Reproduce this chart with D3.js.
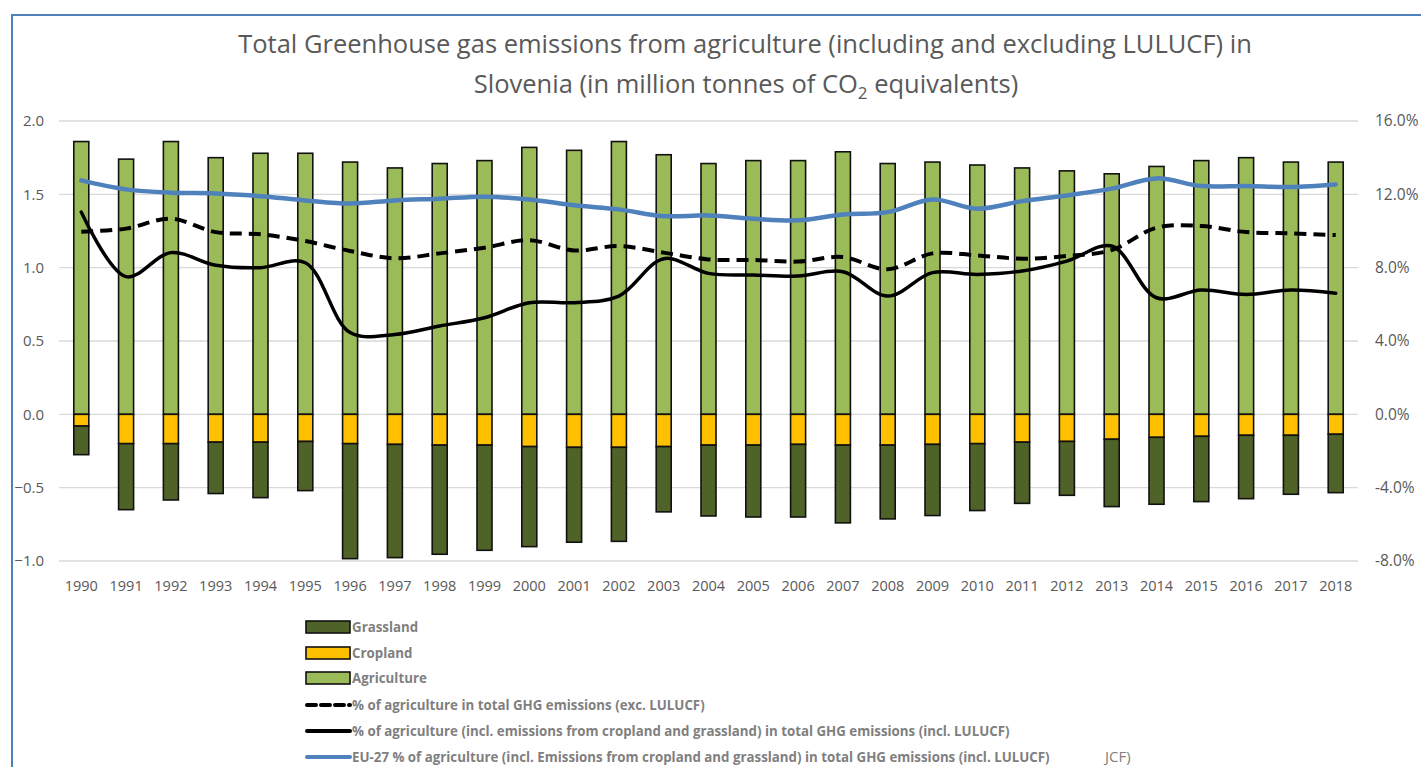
<!DOCTYPE html>
<html>
<head>
<meta charset="utf-8">
<script src="https://cdn.jsdelivr.net/npm/d3@7"></script>
<style>
  body { margin: 0; background: #fff; }
  text { font-family: "Open Sans", "Noto Sans", sans-serif; }
</style>
</head>
<body>
<svg id="main_svg" width="1421" height="767"></svg>
<script>
// data
const years = d3.range(1990, 2019).map(String);

const agriculture = [1.86, 1.74, 1.86, 1.75, 1.78, 1.78, 1.72, 1.68, 1.71, 1.73,
                     1.82, 1.80, 1.86, 1.77, 1.71, 1.73, 1.73, 1.79, 1.71, 1.72,
                     1.70, 1.68, 1.66, 1.64, 1.69, 1.73, 1.75, 1.72, 1.72];
const cropland = [-0.08, -0.20, -0.20, -0.19, -0.19, -0.185, -0.20, -0.205, -0.21, -0.21,
                  -0.22, -0.225, -0.225, -0.22, -0.21, -0.21, -0.205, -0.21, -0.21, -0.205,
                  -0.20, -0.19, -0.185, -0.17, -0.157, -0.15, -0.143, -0.143, -0.136];
const grassland = [-0.195, -0.45, -0.384, -0.35, -0.378, -0.335, -0.784, -0.772, -0.744, -0.717,
                   -0.682, -0.647, -0.641, -0.445, -0.483, -0.49, -0.495, -0.53, -0.503, -0.485,
                   -0.456, -0.417, -0.367, -0.459, -0.456, -0.445, -0.432, -0.402, -0.398];

// percentages (right axis)
const pctExcl = [9.96, 10.13, 10.67, 9.94, 9.82, 9.45, 8.91, 8.51, 8.78, 9.09,
                 9.50, 8.94, 9.18, 8.82, 8.45, 8.42, 8.33, 8.58, 7.91, 8.78,
                 8.67, 8.49, 8.64, 8.96, 10.18, 10.27, 9.94, 9.87, 9.78];
const pctIncl = [11.03, 7.51, 8.82, 8.13, 8.00, 8.27, 4.46, 4.36, 4.82, 5.27,
                 6.09, 6.09, 6.45, 8.49, 7.69, 7.60, 7.54, 7.78, 6.45, 7.73,
                 7.63, 7.82, 8.36, 9.18, 6.36, 6.78, 6.54, 6.78, 6.60];
const pctEU27 = [12.76, 12.27, 12.09, 12.05, 11.90, 11.67, 11.50, 11.67, 11.76, 11.87,
                 11.72, 11.40, 11.18, 10.81, 10.85, 10.67, 10.58, 10.90, 11.03, 11.72,
                 11.22, 11.63, 11.94, 12.31, 12.87, 12.45, 12.45, 12.40, 12.54];

const leftTicks = [-1.0, -0.5, 0.0, 0.5, 1.0, 1.5, 2.0];
const rightTicks = [-8, -4, 0, 4, 8, 12, 16];

const legendItems = [
    {label: "Grassland", type: "box", color: "#4F6228"},
    {label: "Cropland", type: "box", color: "#FFC000"},
    {label: "Agriculture", type: "box", color: "#9BBB59"},
    {label: "% of agriculture in total GHG emissions (exc. LULUCF)", type: "dash", color: "#000"},
    {label: "% of agriculture (incl. emissions from cropland and grassland) in total GHG emissions (incl. LULUCF)", type: "line", color: "#000"},
    {label: "EU-27 % of agriculture (incl. Emissions from cropland and grassland) in total GHG emissions (incl. LULUCF)", type: "line", color: "#4F81BD"}
];

let svg = d3.select("#main_svg");

// chart frame
svg.append("path")
   .attr("d", "M12,770 L12,15 L1425,15")
   .attr("fill", "none")
   .attr("stroke", "#4F81BD")
   .attr("stroke-width", 2);

let x = d3.scaleBand().domain(years).range([59, 1358]).paddingInner(0.665).paddingOuter(0.33);
let y = d3.scaleLinear().domain([-1, 2]).range([561, 121]);
let y2 = d3.scaleLinear().domain([-8, 16]).range([561, 121]);

// grid
svg.append("g").selectAll("line")
   .data(leftTicks).enter().append("line")
   .attr("x1", 59).attr("x2", 1358)
   .attr("y1", d => y(d)).attr("y2", d => y(d))
   .attr("stroke", "#d9d9d9").attr("stroke-width", 1.3);

// axes
let leftAxis = svg.append("g").attr("transform", "translate(50,0)")
   .call(d3.axisLeft(y).tickValues(leftTicks).tickFormat(d3.format(".1f")).tickSize(0));
let rightAxis = svg.append("g").attr("transform", "translate(1375,0)")
   .call(d3.axisRight(y2).tickValues(rightTicks).tickFormat(d => d.toFixed(1) + "%").tickSize(0));
let bottomAxis = svg.append("g").attr("transform", "translate(0,578)")
   .call(d3.axisBottom(x).tickSize(0));
[leftAxis, rightAxis, bottomAxis].forEach(a => {
    a.select(".domain").remove();
    a.selectAll("text").attr("fill", "#595959").style("font-size", "14.5px");
});
leftAxis.selectAll("text").attr("dx", "-3").style("font-size", "15px");
rightAxis.selectAll("text").attr("dx", "-3").style("font-size", "15.5px");

// stacked bars
let table = years.map((yr, i) => ({year: yr, agriculture: agriculture[i], cropland: cropland[i], grassland: grassland[i]}));
let series = d3.stack().keys(["agriculture", "cropland", "grassland"]).offset(d3.stackOffsetDiverging)(table);
let colors = {agriculture: "#9BBB59", cropland: "#FFC000", grassland: "#4F6228"};

svg.append("g").selectAll("g")
   .data(series).enter().append("g")
   .attr("fill", d => colors[d.key])
   .selectAll("rect")
   .data(d => d).enter().append("rect")
   .attr("x", d => x(d.data.year))
   .attr("width", x.bandwidth())
   .attr("y", d => y(Math.max(d[0], d[1])))
   .attr("height", d => Math.abs(y(d[0]) - y(d[1])))
   .attr("stroke", "#111")
   .attr("stroke-width", 1.6);

// lines
let cx = d => x(d) + x.bandwidth() / 2;
let line = d3.line()
   .x((d, i) => cx(years[i]))
   .y(d => y2(d))
   .curve(d3.curveCatmullRom.alpha(0.5));

svg.append("path").datum(pctEU27)
   .attr("d", line).attr("fill", "none")
   .attr("stroke", "#4F81BD").attr("stroke-width", 4.5).attr("stroke-linecap", "round");
svg.append("path").datum(pctExcl)
   .attr("d", line).attr("fill", "none")
   .attr("stroke", "#000").attr("stroke-width", 4).attr("stroke-dasharray", "12,7");
svg.append("path").datum(pctIncl)
   .attr("d", line).attr("fill", "none")
   .attr("stroke", "#000").attr("stroke-width", 3.5).attr("stroke-linecap", "round");

// title
let title = svg.append("text")
   .attr("text-anchor", "middle")
   .attr("fill", "#595959")
   .style("font-size", "25.5px");
title.append("tspan").attr("x", 745).attr("y", 53)
   .text("Total Greenhouse gas emissions from agriculture (including and excluding LULUCF) in");
let t2 = title.append("tspan").attr("x", 746).attr("y", 93);
t2.append("tspan").text("Slovenia (in million tonnes of CO");
t2.append("tspan").style("font-size", "17px").attr("dy", 6).text("2");
t2.append("tspan").attr("dy", -6).text(" equivalents)");

// legend
let legendY = [627, 653, 678, 705, 731, 757];
let legend = svg.append("g").selectAll("g")
   .data(legendItems).enter().append("g")
   .attr("transform", (d, i) => "translate(305," + legendY[i] + ")");

legend.filter(d => d.type === "box").append("rect")
   .attr("x", 1).attr("y", -6).attr("width", 44).attr("height", 12)
   .attr("fill", d => d.color).attr("stroke", "#111").attr("stroke-width", 1.6);
legend.filter(d => d.type !== "box").append("line")
   .attr("x1", 2).attr("x2", 45).attr("y1", 0).attr("y2", 0)
   .attr("stroke", d => d.color)
   .attr("stroke-width", 4)
   .attr("stroke-dasharray", d => d.type === "dash" ? "9,5" : null)
   .attr("stroke-linecap", "round");
legend.append("text")
   .attr("x", 47).attr("y", 5)
   .attr("fill", "#7f7f7f")
   .style("font-size", "13.3px")
   .style("font-weight", "bold")
   .text(d => d.label);

svg.append("text")
   .attr("x", 1105).attr("y", 762)
   .attr("fill", "#7f7f7f")
   .style("font-size", "15px")
   .text("JCF)");
</script>
</body>
</html>
